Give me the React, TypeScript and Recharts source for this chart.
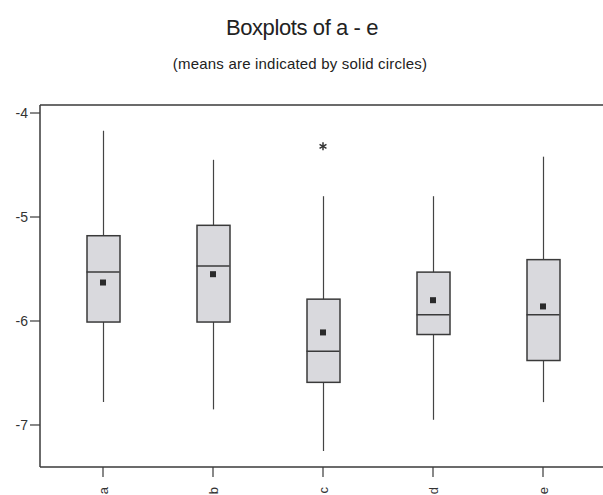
import React from 'react';
import { ComposedChart, Bar, Scatter, XAxis, YAxis, ReferenceLine } from 'recharts';

const categories = ['a', 'b', 'c', 'd', 'e'];
const whiskerLow = [-6.78, -6.85, -7.25, -6.95, -6.78];
const q1 = [-6.01, -6.01, -6.59, -6.13, -6.38];
const median = [-5.53, -5.47, -6.29, -5.94, -5.94];
const q3 = [-5.18, -5.08, -5.79, -5.53, -5.41];
const whiskerHigh = [-4.17, -4.45, -4.8, -4.8, -4.42];
const means = [-5.63, -5.55, -6.11, -5.8, -5.86];
const outliers: (number | null)[] = [null, null, -4.32, null, null];
const yTicks = [-7, -6, -5, -4];
const yDomain = [-7.404, -3.923];

const data = categories.map((name, i) => ({
  name,
  whisker: [whiskerLow[i], whiskerHigh[i]],
  box: [q1[i], q3[i]],
  median: median[i],
  mean: means[i],
  outlier: outliers[i],
}));

const FONT = '"Liberation Sans", Arial, sans-serif';
const INK = '#3a3a3a';

const WhiskerShape = (props: any) => {
  const { x, y, width, height } = props;
  const top = Math.min(y, y + height);
  const h = Math.abs(height);
  const cx = x + width / 2;
  return <line x1={cx} x2={cx} y1={top} y2={top + h} stroke="#444" strokeWidth={1.2} />;
};

const BoxShape = (props: any) => {
  const { x, y, width, height } = props;
  const top = Math.min(y, y + height);
  const h = Math.abs(height);
  return <rect x={x} y={top} width={width} height={h} fill="#d9d9dd" stroke={INK} strokeWidth={1.5} />;
};

const MedianShape = (props: any) => {
  const { cx, cy } = props;
  if (cx == null || cy == null) return <g />;
  return <line x1={cx - 16.5} x2={cx + 16.5} y1={cy} y2={cy} stroke={INK} strokeWidth={1.5} />;
};

const MeanShape = (props: any) => {
  const { cx, cy } = props;
  if (cx == null || cy == null) return <g />;
  return <rect x={cx - 3} y={cy - 3} width={6} height={6} fill="#2a2a2a" />;
};

const OutlierShape = (props: any) => {
  const { cx, cy, payload } = props;
  if (cx == null || cy == null || payload == null || payload.outlier == null) return <g />;
  const r = 4;
  const lines = [0, 60, 120].map((deg) => {
    const a = (deg * Math.PI) / 180;
    return (
      <line
        key={deg}
        x1={cx - r * Math.sin(a)}
        y1={cy - r * Math.cos(a)}
        x2={cx + r * Math.sin(a)}
        y2={cy + r * Math.cos(a)}
        stroke="#333"
        strokeWidth={1.5}
      />
    );
  });
  return <g>{lines}</g>;
};

const XTick = (props: any) => {
  const { x, y, payload } = props;
  const ay = y + 8;
  return (
    <text
      x={x}
      y={ay}
      transform={`rotate(-90, ${x}, ${ay})`}
      textAnchor="end"
      dominantBaseline="central"
      fontFamily={FONT}
      fontSize={13}
      fill="#333"
    >
      {payload.value}
    </text>
  );
};

export default function App() {
  return (
    <div
      style={{
        position: 'absolute',
        left: 0,
        top: 0,
        width: 603,
        height: 495,
        overflow: 'hidden',
        background: '#ffffff',
      }}
    >
      <svg width={603} height={100} style={{ position: 'absolute', left: 0, top: 0 }}>
        <text x={302} y={35} textAnchor="middle" fontFamily={FONT} fontSize={22} letterSpacing={-0.4} fill="#222">
          Boxplots of a - e
        </text>
        <text x={300} y={69} textAnchor="middle" fontFamily={FONT} fontSize={15} letterSpacing={0.2} fill="#222">
          (means are indicated by solid circles)
        </text>
      </svg>
      <div style={{ position: 'absolute', left: 0, top: 0 }}>
        <ComposedChart
          width={640}
          height={495}
          data={data}
          margin={{ top: 105, right: 34, bottom: 0, left: 0 }}
          barSize={33}
        >
          <XAxis
            xAxisId="main"
            dataKey="name"
            type="category"
            padding={{ left: 8, right: 8 }}
            tickSize={10}
            height={28}
            axisLine={{ stroke: INK, strokeWidth: 1.5 }}
            tickLine={{ stroke: INK, strokeWidth: 1.2 }}
            tick={<XTick />}
            interval={0}
          />
          <XAxis xAxisId="w" dataKey="name" type="category" padding={{ left: 8, right: 8 }} hide />
          <YAxis
            type="number"
            domain={yDomain}
            allowDataOverflow
            ticks={yTicks}
            width={40}
            tickSize={10}
            tickMargin={2}
            axisLine={{ stroke: INK, strokeWidth: 1.5 }}
            tickLine={{ stroke: INK, strokeWidth: 1.2 }}
            tick={{ fontFamily: FONT, fontSize: 14, fill: '#333' }}
            tickFormatter={(v: number) => String(v)}
          />
          <ReferenceLine
            xAxisId="main"
            y={yDomain[1]}
            stroke={INK}
            strokeWidth={1.5}
            ifOverflow="visible"
          />
          <Bar xAxisId="w" dataKey="whisker" shape={<WhiskerShape />} isAnimationActive={false} />
          <Bar xAxisId="main" dataKey="box" shape={<BoxShape />} isAnimationActive={false} />
          <Scatter xAxisId="main" dataKey="median" shape={<MedianShape />} isAnimationActive={false} />
          <Scatter xAxisId="main" dataKey="mean" shape={<MeanShape />} isAnimationActive={false} />
          <Scatter xAxisId="main" dataKey="outlier" shape={<OutlierShape />} isAnimationActive={false} />
        </ComposedChart>
      </div>
    </div>
  );
}
